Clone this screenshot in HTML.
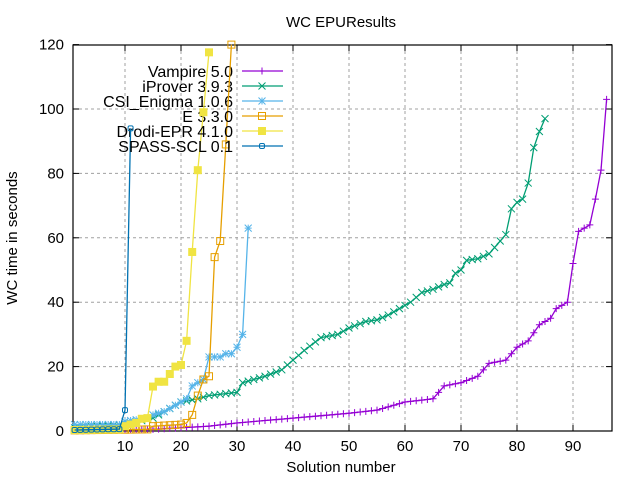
<!DOCTYPE html>
<html><head><meta charset="utf-8"><style>
body{margin:0;background:#fff}
svg{display:block;font-family:"Liberation Sans",sans-serif}
</style></head><body>
<svg id="s" width="640" height="480" xmlns="http://www.w3.org/2000/svg"></svg>
<script>
const S=document.getElementById('s');
const X=n=>69+5.6*n, Y=v=>431-3.22*v;
let h='';
for(let v=20;v<=100;v+=20)h+=`<line x1="73" x2="612" y1="${Y(v)}" y2="${Y(v)}" stroke="#a0a0a0" stroke-dasharray="3,3"/>`;
for(let n=10;n<=90;n+=10)h+=`<line y1="45" y2="431" x1="${X(n)}" x2="${X(n)}" stroke="#a0a0a0" stroke-dasharray="3,3"/>`;
for(let v=0;v<=120;v+=20){h+=`<line x1="73" x2="79" y1="${Y(v)}" y2="${Y(v)}" stroke="#000"/><line x1="606" x2="612" y1="${Y(v)}" y2="${Y(v)}" stroke="#000"/><text x="64" y="${Y(v)+5}" font-size="15" text-anchor="end">${v}</text>`;}
for(let n=10;n<=90;n+=10){h+=`<line y1="431" y2="425" x1="${X(n)}" x2="${X(n)}" stroke="#000"/><line y1="45" y2="51" x1="${X(n)}" x2="${X(n)}" stroke="#000"/><text x="${X(n)}" y="451" font-size="15" text-anchor="middle">${n}</text>`;}
h+=`<rect x="73" y="45" width="539" height="386" fill="none" stroke="#000" stroke-width="1.2"/>`;
h+=`<text x="341" y="27" font-size="15" text-anchor="middle">WC EPUResults</text>`;
h+=`<text x="341" y="472" font-size="15" text-anchor="middle">Solution number</text>`;
h+=`<text transform="translate(17,238) rotate(-90)" font-size="15" text-anchor="middle">WC time in seconds</text>`;
function interp(k,N){const a=[];for(let n=1;n<=N;n++){let i=0;while(i<k.length-1&&k[i+1][0]<n)i++;const p=k[i],q=k[Math.min(i+1,k.length-1)];let v=p[1];if(q[0]!=p[0]&&n>=p[0])v=p[1]+(q[1]-p[1])*(n-p[0])/(q[0]-p[0]);if(n<=k[0][0])v=k[0][1];a.push([n,v]);}return a;}
function mk(t,x,y,c){const d=3.5;
 if(t=='+')return `<path d="M${x-d} ${y}h${2*d}M${x} ${y-d}v${2*d}" stroke="${c}"/>`;
 if(t=='x')return `<path d="M${x-d} ${y-d}l${2*d} ${2*d}M${x-d} ${y+d}l${2*d} ${-2*d}" stroke="${c}"/>`;
 if(t=='*')return `<path d="M${x-d} ${y}h${2*d}M${x} ${y-d}v${2*d}M${x-d} ${y-d}l${2*d} ${2*d}M${x-d} ${y+d}l${2*d} ${-2*d}" stroke="${c}"/>`;
 if(t=='s')return `<rect x="${x-3.5}" y="${y-3.5}" width="7" height="7" fill="none" stroke="${c}"/>`;
 if(t=='S')return `<rect x="${x-4}" y="${y-4}" width="8" height="8" fill="${c}"/>`;
 return `<rect x="${x-2.5}" y="${y-2.5}" width="5" height="5" rx="1.5" fill="none" stroke="${c}"/>`;}
const series=[
 ['Vampire 5.0','#9400d3','+',interp([[1,0.2],[15,0.5],[25,1.5],[30,2.5],[40,4],[50,5.5],[55,6.5],[60,9],[65,10],[67,14],[70,15],[73,17],[75,21],[78,22],[80,26],[82,28],[84,33],[86,35],[87,38],[89,40],[90,52],[91,62],[93,64],[94,72],[95,81],[96,103]],96)],
 ['iProver 3.9.3','#009e73','x',interp([[1,1],[10,2],[15,4],[20,9],[23,10],[25,11],[30,12],[31,15],[35,17],[38,19],[40,22],[42,25],[45,29],[48,30],[50,32],[53,34],[55,34.5],[57,36],[59,38],[61,40],[63,43],[65,44],[67,45.5],[68,46],[69,49],[70,50],[71,53],[73,53.5],[75,55],[77,59],[78,61],[79,69],[80,71],[81,72],[82,77],[83,88],[84,93],[85,97]],85)],
 ['CSI_Enigma 1.0.6','#56b4e9','*',interp([[1,2],[9,2],[10,3],[14,4],[15,5],[17,6],[19,8],[21,10],[22,14],[23,15],[24,16],[25,23],[27,23],[28,24],[29,24],[30,26],[31,30],[32,63]],32)],
 ['E 3.3.0','#e69f00','s',interp([[1,0.2],[14,0.5],[15,1.5],[20,2],[21,2.5],[22,5],[23,11],[24,16],[25,17],[26,54],[27,59],[28,89],[29,120]],29)],
 ['Drodi-EPR 4.1.0','#f0e442','S',interp([[1,0.3],[9,0.5],[10,1.5],[11,2],[12,2.5],[13,3.8],[14,4],[15,13.8],[16,15.3],[17,15.3],[18,17.7],[19,20],[20,20.5],[21,28],[22,55.6],[23,81],[24,99],[25,117.6]],25)],
 ['SPASS-SCL 0.1','#0072b2','o',interp([[1,0.3],[9,0.6],[10,6.5],[11,94]],11)]
];
series.forEach((s,i)=>{const pts=s[3].map(p=>[X(p[0]),Y(p[1])]);
 h+=`<polyline fill="none" stroke="${s[1]}" stroke-width="1.3" points="${pts.map(p=>p.join(',')).join(' ')}"/>`;
 pts.forEach(p=>h+=mk(s[2],p[0],p[1],s[1]));
 const ly=71+15*i;
 h+=`<text x="233" y="${ly+6}" font-size="16" text-anchor="end">${s[0]}</text><line x1="242" x2="283" y1="${ly}" y2="${ly}" stroke="${s[1]}" stroke-width="1.3"/>`+mk(s[2],262,ly,s[1]);
});
S.innerHTML=h;
</script>
</body></html>
